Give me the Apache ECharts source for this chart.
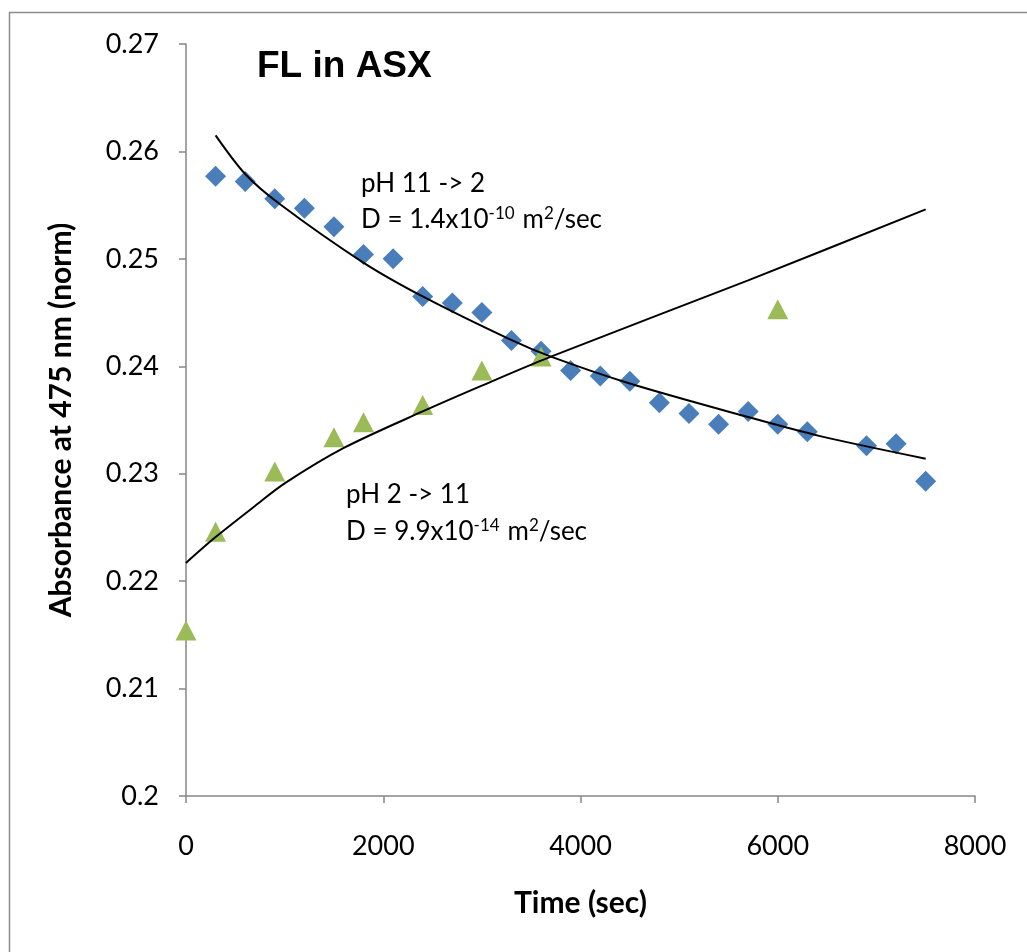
<!DOCTYPE html>
<html>
<head>
<meta charset="utf-8">
<script src="https://cdn.jsdelivr.net/npm/echarts@6/dist/echarts.min.js"></script>
<style>
  html, body { margin: 0; padding: 0; background: #fff; }
  #chart { width: 1027px; height: 952px; }
</style>
</head>
<body>
<div id="chart"></div>
<script>
// ---- Data ----
const timeBlue = [300, 600, 900, 1200, 1500, 1800, 2100, 2400, 2700, 3000, 3300, 3600, 3900, 4200, 4500, 4800, 5100, 5400, 5700, 6000, 6300, 6900, 7200, 7500];
const absBlue  = [0.2577, 0.2572, 0.2556, 0.2547, 0.2530, 0.2504, 0.2500, 0.2465, 0.2459, 0.2450, 0.2424, 0.2414, 0.2396, 0.2391, 0.2386, 0.2366, 0.2356, 0.2346, 0.2358, 0.2346, 0.2339, 0.2326, 0.2328, 0.2293];

const timeGreen = [0, 300, 900, 1500, 1800, 2400, 3000, 3600, 6000];
const absGreen  = [0.2154, 0.2246, 0.2302, 0.2334, 0.2348, 0.2364, 0.2396, 0.2409, 0.2453];

// Fitted trend curves
const fitBlueX = [300, 600, 950, 1790, 2400, 3285, 3700, 4500, 5690, 6430, 7500];
const fitBlueY = [0.2615, 0.2579, 0.2551, 0.2497, 0.2465, 0.2425, 0.2409, 0.2384, 0.2353, 0.2335, 0.2314];

const fitGreenX = [0, 300, 700, 1000, 1600, 2400, 3000, 3700, 5700, 7500];
const fitGreenY = [0.2217, 0.2241, 0.2270, 0.2291, 0.2324, 0.2358, 0.2382, 0.2409, 0.2480, 0.2546];

const xTicks = [0, 2000, 4000, 6000, 8000];
const yTicks = [0.20, 0.21, 0.22, 0.23, 0.24, 0.25, 0.26, 0.27];

const titleText = 'FL in ASX';
const xName = 'Time (sec)';
const yName = 'Absorbance at 475 nm (norm)';

// ---- Chart ----
const zip = (xs, ys) => xs.map((x, i) => [x, ys[i]]);
const chart = echarts.init(document.getElementById('chart'), null, { renderer: 'canvas' });
const FONT = 'Lato';
const axisGray = '#868686';
const richSup = {
  n: { fontFamily: FONT, fontSize: 26, fill: '#000', verticalAlign: 'bottom', lineHeight: 32 },
  s: { fontFamily: FONT, fontSize: 17, fill: '#000', verticalAlign: 'bottom', lineHeight: 32, padding: [0, 0, 11, 0] },
  g: { fontFamily: FONT, fontSize: 26, fill: '#000', verticalAlign: 'bottom', lineHeight: 32, width: 8 }
};

chart.setOption({
  animation: false,
  backgroundColor: '#ffffff',
  title: {
    text: titleText,
    left: 252, top: 43,
    textStyle: { fontFamily: 'Liberation Sans', fontWeight: 'bold', fontSize: 37, color: '#000' }
  },
  grid: { left: 186, top: 44, width: 789, height: 752, containLabel: false },
  xAxis: {
    type: 'value',
    min: xTicks[0], max: xTicks[xTicks.length - 1], interval: xTicks[1] - xTicks[0],
    splitLine: { show: false },
    axisLine: { show: true, onZero: false, lineStyle: { color: axisGray, width: 1.5 } },
    axisTick: { show: true, length: 7, lineStyle: { color: axisGray, width: 1.5 } },
    axisLabel: { fontFamily: FONT, fontSize: 27, color: '#000', margin: 37,
      formatter: v => String(Math.round(v)) },
    name: xName, nameLocation: 'middle', nameGap: 92,
    nameTextStyle: { fontFamily: FONT, fontWeight: 'bold', fontSize: 30, color: '#000' }
  },
  yAxis: {
    type: 'value',
    min: yTicks[0], max: yTicks[yTicks.length - 1], interval: 0.01,
    splitLine: { show: false },
    axisLine: { show: true, onZero: false, lineStyle: { color: axisGray, width: 1.5 } },
    axisTick: { show: true, length: 7, lineStyle: { color: axisGray, width: 1.5 } },
    axisLabel: { fontFamily: FONT, fontSize: 27, color: '#000', margin: 27,
      formatter: v => (Math.round(v * 100) / 100).toString() },
    name: yName, nameLocation: 'middle', nameGap: 110, nameRotate: 90,
    nameTextStyle: { fontFamily: FONT, fontWeight: 'bold', fontSize: 30, color: '#000' }
  },
  graphic: [
    { type: 'rect', shape: { x: 9.5, y: 12.5, width: 1100, height: 1100 }, style: { fill: 'none', stroke: '#8c8c8c', lineWidth: 1.5 }, silent: true, z: -1 },
    { type: 'text', left: 361, top: 171, style: { text: 'pH 11 -> 2', fontFamily: FONT, fontSize: 26, fill: '#000' } },
    { type: 'text', left: 361, top: 205, style: { text: '{n|D = 1.4x10}{s|-10}{g| }{n|m}{s|2}{n|/sec}', rich: richSup } },
    { type: 'text', left: 346, top: 482, style: { text: 'pH 2 -> 11', fontFamily: FONT, fontSize: 26, fill: '#000' } },
    { type: 'text', left: 346, top: 517, style: { text: '{n|D = 9.9x10}{s|-14}{g| }{n|m}{s|2}{n|/sec}', rich: richSup } }
  ],
  series: [
    {
      name: 'pH 11 -> 2', type: 'scatter', data: zip(timeBlue, absBlue),
      symbol: 'diamond', symbolSize: 21, itemStyle: { color: '#4A7EBB', opacity: 1 }, z: 2
    },
    {
      name: 'pH 2 -> 11', type: 'scatter', data: zip(timeGreen, absGreen),
      symbol: 'triangle', symbolSize: [21, 20], itemStyle: { color: '#9BBB59', opacity: 1 }, z: 3
    },
    {
      name: 'fit 11->2', type: 'line', data: zip(fitBlueX, fitBlueY), smooth: 0.3,
      showSymbol: false, lineStyle: { color: '#000', width: 2 }, z: 4
    },
    {
      name: 'fit 2->11', type: 'line', data: zip(fitGreenX, fitGreenY), smooth: 0.3,
      showSymbol: false, lineStyle: { color: '#000', width: 2 }, z: 4
    }
  ]
});
</script>
</body>
</html>
